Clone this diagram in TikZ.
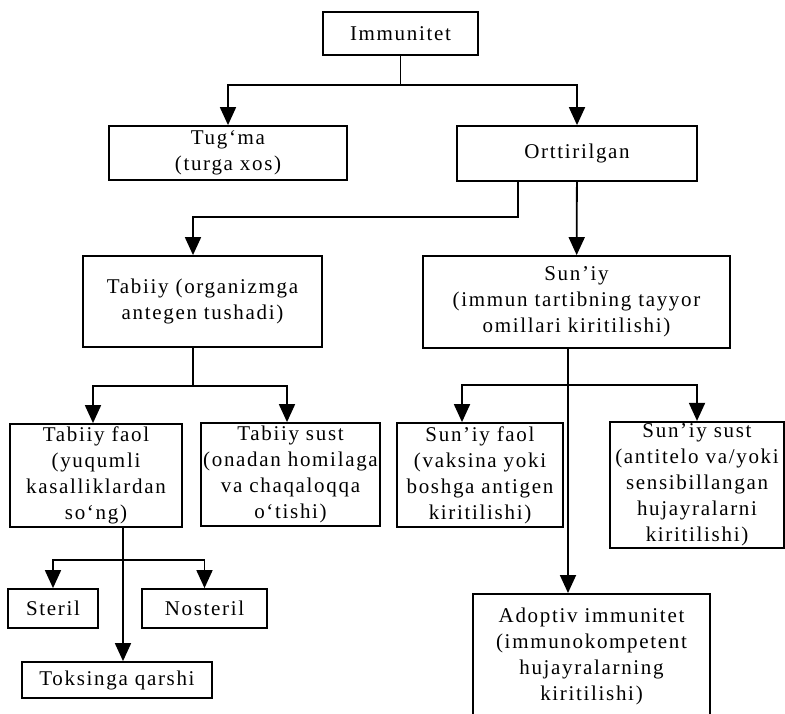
\documentclass[tikz,border=0pt]{standalone}
\usepackage{fontspec}
\setmainfont{Liberation Serif}[LetterSpace=8]
\usetikzlibrary{arrows.meta, positioning}

\begin{document}
\begin{tikzpicture}[x=0.5pt, y=-0.5pt,
    box/.style={rectangle, draw, line width=0.9pt, align=center, inner sep=1pt,
        font=\fontsize{10.5}{13}\selectfont},
    line/.style={line width=0.9pt},
    arrow/.style={line width=0.9pt, -{Triangle[length=9pt, width=8pt]}}
]
\clip (0,0) rectangle (785,713);

% Boxes
\node[box, minimum width=77.5pt, minimum height=21.5pt] (immun) at (400.5,33.5) {Immunitet};
\node[box, minimum width=119pt, minimum height=27pt] (tugma) at (228,153) {Tug‘ma\\(turga xos)};
\node[box, minimum width=120pt, minimum height=27.5pt] (ortt) at (577,153.5) {Orttirilgan};
\node[box, minimum width=119.5pt, minimum height=45.5pt] (tabiiy) at (202.5,301.5) {Tabiiy (organizmga\\antegen tushadi)};
\node[box, minimum width=153.5pt, minimum height=46pt] (suniy) at (576.5,302) {Sun’iy\\(immun tartibning tayyor\\omillari kiritilishi)};
\node[box, minimum width=86pt, minimum height=51.5pt] (tfaol) at (96,475.5) {Tabiiy faol\\(yuqumli\\kasalliklardan\\so‘ng)};
\node[box, minimum width=87.5pt, minimum height=51.5pt] (tsust) at (290.5,474.5) {Tabiiy sust\\(onadan homilaga\\va chaqaloqqa\\o‘tishi)};
\node[box, minimum width=83pt, minimum height=52pt] (sfaol) at (480,475) {Sun’iy faol\\(vaksina yoki\\boshga antigen\\kiritilishi)};
\node[box, minimum width=87pt, minimum height=62pt] (ssust) at (697,485) {Sun’iy sust\\(antitelo va/yoki\\sensibillangan\\hujayralarni\\kiritilishi)};
\node[box, minimum width=45pt, minimum height=19.5pt] (steril) at (53,608.5) {Steril};
\node[box, minimum width=62.5pt, minimum height=19.5pt] (nosteril) at (204.5,608.5) {Nosteril};
\node[box, minimum width=95pt, minimum height=18pt] (toks) at (117,680) {Toksinga qarshi};
\node[box, minimum width=118.5pt, anchor=north] (adopt) at (591.5,593) {\rule{0pt}{13.5pt}Adoptiv immunitet\\(immunokompetent\\hujayralarning\\kiritilishi)\\ \mbox{}};

% Junctions
\coordinate (j1) at (400.5,85);
\coordinate (j2) at (518,217);
\coordinate (j3) at (193,386);
\coordinate (j4) at (568,385);
\coordinate (j5) at (123,560);

% Connectors
\draw[arrow] (immun) -- (j1) -| (tugma);
\draw[arrow] (j1) -| (ortt);
\draw[arrow] (ortt.south -| j2) -- (j2) -| (tabiiy.north -| j3);
\draw[arrow] (ortt) -- (suniy);
\draw[line] (tabiiy.south -| j3) -- (j3);
\draw[arrow] (j3) -| (tfaol.north -| 93,0);
\draw[arrow] (j3) -| (tsust.north -| 287,0);
\draw[arrow] (suniy.south -| j4) -- (adopt.north -| j4);
\draw[arrow] (j4) -| (sfaol.north -| 462,0);
\draw[arrow] (j4) -| (ssust);
\draw[arrow] (tfaol.south -| j5) -- (toks.north -| j5);
\draw[arrow] (j5) -| (steril);
\draw[arrow] (j5) -| (nosteril);

\end{tikzpicture}
\end{document}
